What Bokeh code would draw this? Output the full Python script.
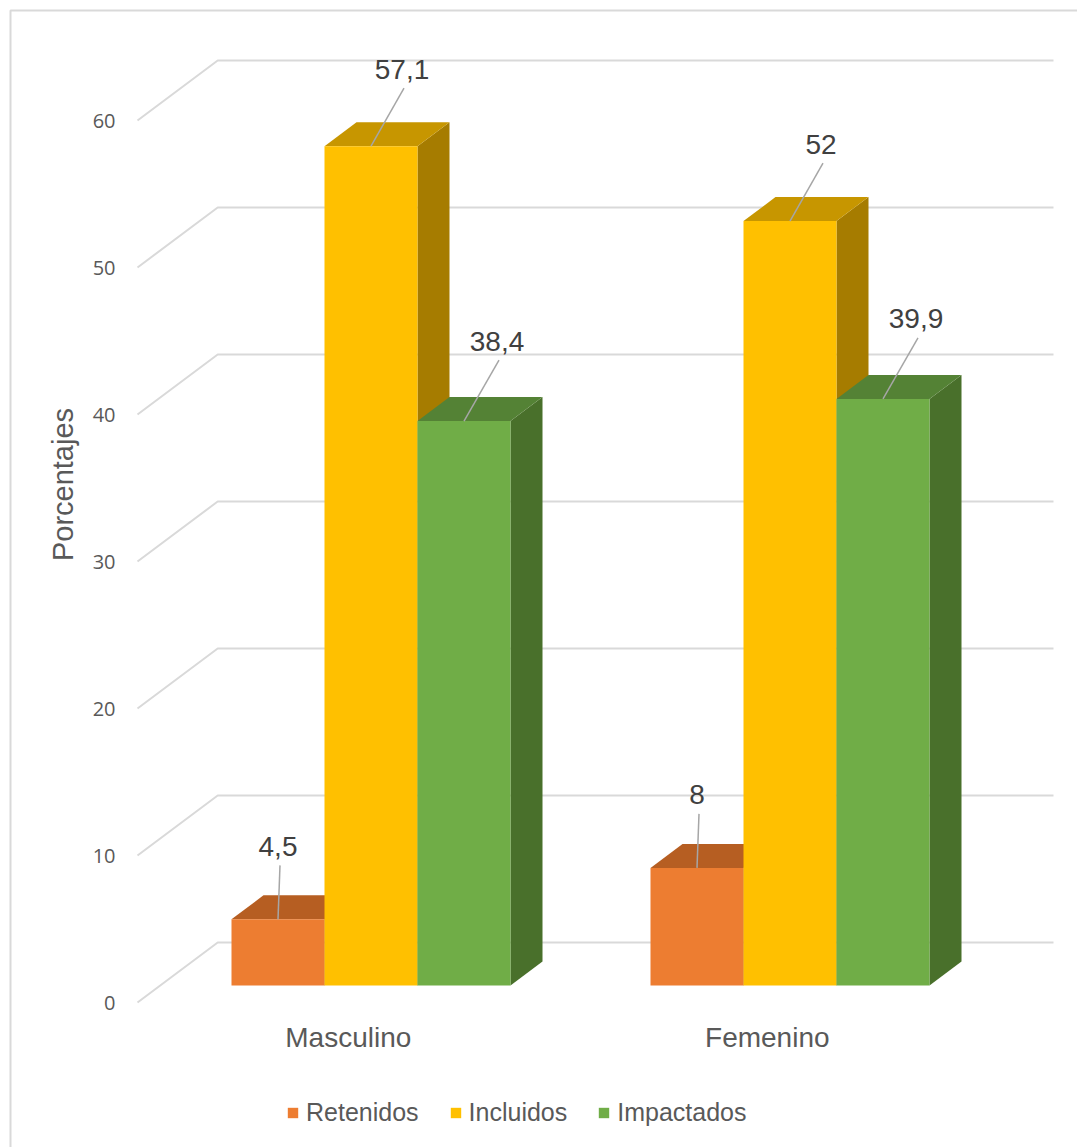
import math

from bokeh.plotting import figure
from bokeh.models import Range1d, LinearAxis, FixedTicker, Legend, LegendItem
from bokeh.embed import file_html
from bokeh.resources import INLINE

# ---- data -------------------------------------------------------------
categories = ["Masculino", "Femenino"]
series = ["Retenidos", "Incluidos", "Impactados"]
retenidos = [4.5, 8]
incluidos = [57.1, 52]
impactados = [38.4, 39.9]
y_ticks = [0, 10, 20, 30, 40, 50, 60]
y_title = "Porcentajes"

values = [retenidos, incluidos, impactados]

# ---- style ------------------------------------------------------------
front_colors = ["#ED7D31", "#FFC000", "#70AD47"]
top_colors = ["#B65E22", "#C79600", "#548235"]
side_colors = ["#9C4F1C", "#A67C00", "#49702B"]
grid_color = "#D9D9D9"
text_color = "#595959"
label_color = "#404040"

# ---- layout of the oblique projection ---------------------------------
W, H = 1077, 1147
PX_X = 419.0        # canvas pixels per category step
PX_Y = 14.7         # canvas pixels per percentage point
BASE_PX = 985.0     # canvas row of the bar floor
CENTER0_PX = 370.5  # canvas column of the first group centre


def cx(px):
    return (px - CENTER0_PX) / PX_X


def cy(py):
    return (BASE_PX - py) / PX_Y


BAR_W = 93 / PX_X
BAR_DX, BAR_DY = 32 / PX_X, 24 / PX_Y          # bar depth
FRONT_DX, FRONT_DY = -22.7 / PX_X, -17 / PX_Y  # front plane vs bar plane
BACK_DX, BACK_DY = 57.5 / PX_X, 43 / PX_Y      # back wall vs bar plane
WALL_LEFT = cx(137)
WALL_RIGHT = cx(1053)

LABEL_DX = [0, 31, 33]     # px, label centre right of bar centre
LABEL_RISE = [73, 77, 80]  # px, label centre above bar top

p = figure(
    width=W, height=H,
    x_range=Range1d(cx(0), cx(W)),
    y_range=Range1d(cy(H), cy(0)),
    output_backend="svg", toolbar_location=None,
    x_axis_location=None, y_axis_location=None,
    min_border=0, min_border_left=0, min_border_right=0,
    min_border_top=0, min_border_bottom=0,
    outline_line_color=None, background_fill_color="white",
    border_fill_color="white",
)
p.grid.grid_line_color = None
p.grid.visible = False
p.extra_y_ranges = {"front": Range1d(cy(H) - FRONT_DY, cy(0) - FRONT_DY)}
p.extra_x_ranges = {"front_x": Range1d(cx(0) - FRONT_DX, cx(W) - FRONT_DX)}

# chart border
p.line(x=[cx(10), cx(10), cx(W)], y=[cy(H), cy(10), cy(10)],
       line_color=grid_color, line_width=2)

# walls: side-wall diagonals and back-wall gridlines
grid_xs, grid_ys = [], []
for t in y_ticks:
    grid_xs.append([WALL_LEFT, WALL_LEFT + BACK_DX - FRONT_DX, WALL_RIGHT])
    grid_ys.append([t + FRONT_DY, t + BACK_DY, t + BACK_DY])
p.multi_line(xs=grid_xs, ys=grid_ys, line_color=grid_color, line_width=2)

# 3D bars, drawn left to right so nearer faces cover hidden sides
front_renderers = []
for i, name in enumerate(series):
    side_xs, side_ys, top_xs, top_ys = [], [], [], []
    lefts, rights, tops = [], [], []
    for j, _ in enumerate(categories):
        v = values[i][j]
        xc = j + (i - 1) * BAR_W
        l, r = xc - BAR_W / 2, xc + BAR_W / 2
        side_xs.append([r, r + BAR_DX, r + BAR_DX, r])
        side_ys.append([0, BAR_DY, v + BAR_DY, v])
        top_xs.append([l, l + BAR_DX, r + BAR_DX, r])
        top_ys.append([v, v + BAR_DY, v + BAR_DY, v])
        lefts.append(l)
        rights.append(r)
        tops.append(v)
    p.patches(xs=side_xs, ys=side_ys, fill_color=side_colors[i], line_color=None)
    p.patches(xs=top_xs, ys=top_ys, fill_color=top_colors[i], line_color=None)
    rr = p.quad(left=lefts, right=rights, bottom=[0] * len(tops), top=tops,
                fill_color=front_colors[i], line_color=None)
    front_renderers.append(rr)

# data labels with leader lines
for i, name in enumerate(series):
    xs, ys, texts, x1, y1 = [], [], [], [], []
    for j, _ in enumerate(categories):
        v = values[i][j]
        xc = j + (i - 1) * BAR_W
        xs.append(xc)
        ys.append(v)
        texts.append(f"{v:g}".replace(".", ","))
        x1.append(xc + (LABEL_DX[i] + 2) / PX_X)
        y1.append(v + (LABEL_RISE[i] - 19) / PX_Y)
    p.segment(x0=xs, y0=ys, x1=x1, y1=y1, line_color="#A6A6A6", line_width=1.5)
    p.text(x=xs, y=ys, text=texts, x_offset=LABEL_DX[i], y_offset=-LABEL_RISE[i],
           text_align="center", text_baseline="middle",
           text_font={"value": "Liberation Sans"}, text_font_size="28px",
           text_color=label_color)

# value axis on the front edge of the side wall
yaxis = LinearAxis(y_range_name="front", fixed_location=WALL_LEFT,
                   ticker=FixedTicker(ticks=y_ticks))
yaxis.axis_line_color = None
yaxis.major_tick_line_color = None
yaxis.minor_tick_line_color = None
yaxis.major_tick_out = 0
yaxis.major_tick_in = 0
yaxis.major_label_standoff = 22
yaxis.major_label_text_font = "Open Sans"
yaxis.major_label_text_font_size = "20px"
yaxis.major_label_text_color = text_color
p.add_layout(yaxis, "left")

# value axis title, centred on the plot area
p.text(x=[cx(62)], y=[cy(484)], text=[y_title], angle=math.pi / 2,
       text_align="center", text_baseline="middle",
       text_font={"value": "Liberation Sans"}, text_font_size="29px",
       text_color=text_color)

# category axis on the front edge of the floor
xaxis = LinearAxis(x_range_name="front_x", fixed_location=FRONT_DY,
                   ticker=FixedTicker(ticks=list(range(len(categories)))),
                   major_label_overrides={j: c for j, c in enumerate(categories)})
xaxis.axis_line_color = None
xaxis.major_tick_line_color = None
xaxis.minor_tick_line_color = None
xaxis.major_tick_out = 0
xaxis.major_tick_in = 0
xaxis.major_label_standoff = 19
xaxis.major_label_text_font = "Liberation Sans"
xaxis.major_label_text_font_size = "28px"
xaxis.major_label_text_color = text_color
p.add_layout(xaxis, "below")

legend = Legend(
    items=[LegendItem(label=s, renderers=[r]) for s, r in zip(series, front_renderers)],
    orientation="horizontal", location=(286, 20),
    glyph_width=13, glyph_height=13, label_standoff=7, spacing=30,
    padding=0, margin=0, border_line_color=None, background_fill_alpha=0,
    label_text_font="Liberation Sans", label_text_font_size="25px",
    label_text_color=text_color,
)
p.add_layout(legend)

open("out.html", "w").write(file_html(p, INLINE))
